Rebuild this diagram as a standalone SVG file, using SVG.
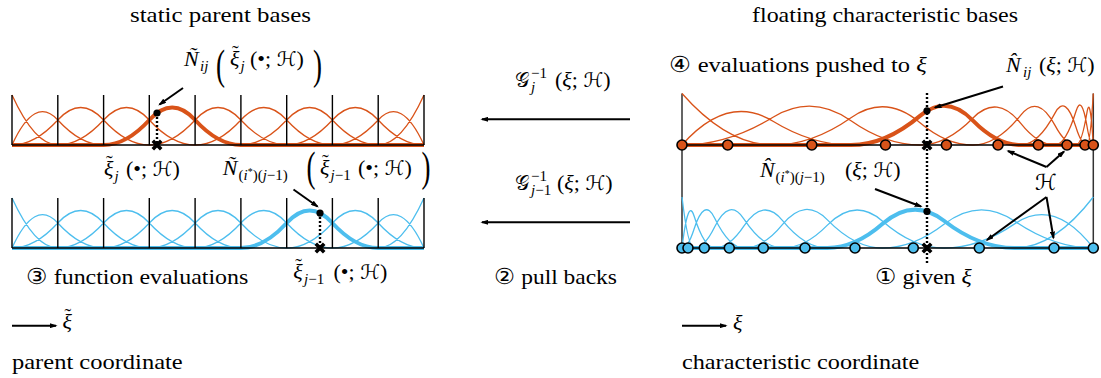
<svg xmlns="http://www.w3.org/2000/svg" width="1101" height="378" viewBox="0 0 1101 378">
<defs>
<marker id="ah" viewBox="0 0 10 6.5" refX="8" refY="3.25" markerWidth="4" markerHeight="2.6" orient="auto" markerUnits="strokeWidth"><path d="M0,0 L10,3.25 L0,6.5 z" fill="#000"/></marker>
<path id="xm" fill="none" stroke="#000" stroke-width="3.6" d="M-4.2,-4.2L4.2,4.2M-4.2,4.2L4.2,-4.2"/>
<path id="famL" fill="none" stroke-width="1.3" d="M12,95 Q34.9,145 57.8,145 M12,145 Q34.9,95 57.8,120 Q80.7,145 103.6,145 M12,145 Q34.9,145 57.8,120 Q80.7,95 103.6,120 Q126.5,145 149.3,145 M57.8,145 Q80.7,145 103.6,120 Q126.5,95 149.3,120 Q172.2,145 195.1,145 M103.6,145 Q126.5,145 149.3,120 Q172.2,95 195.1,120 Q218,145 240.9,145 M149.3,145 Q172.2,145 195.1,120 Q218,95 240.9,120 Q263.8,145 286.7,145 M195.1,145 Q218,145 240.9,120 Q263.8,95 286.7,120 Q309.6,145 332.4,145 M240.9,145 Q263.8,145 286.7,120 Q309.6,95 332.4,120 Q355.3,145 378.2,145 M286.7,145 Q309.6,145 332.4,120 Q355.3,95 378.2,120 Q401.1,145 424,145 M332.4,145 Q355.3,145 378.2,120 Q401.1,95 424,145 M378.2,145 Q401.1,145 424,95"/>
<path id="gridL" fill="none" stroke="#000" stroke-width="1.4" d="M12,95V145M57.8,95V145M103.6,95V145M149.3,95V145M195.1,95V145M240.9,95V145M286.7,95V145M332.4,95V145M378.2,95V145M424,95V145M12,145H424"/>
</defs>

<g id="title-static"><text font-family="Liberation Serif" font-size="22" x="130" y="21.5" textLength="181" lengthAdjust="spacingAndGlyphs">static parent bases</text></g>
<g id="title-floating"><text font-family="Liberation Serif" font-size="22" x="752" y="21.5" textLength="266" lengthAdjust="spacingAndGlyphs">floating characteristic bases</text></g>

<g id="parent-top">
<use href="#famL" stroke="#D95319"/>
<path fill="none" stroke="#D95319" stroke-width="4" d="M12,145 L103.6,145 Q126.5,145 149.3,120 Q172.2,95 195.1,120 Q218,145 240.9,145 L424,145"/>
<use href="#gridL"/>
<path fill="none" stroke="#000" stroke-width="2.4" stroke-dasharray="2 2" d="M157,113V145"/>
<use href="#xm" x="157" y="145"/>
<circle fill="#000" cx="157" cy="113" r="3.6"/>
</g>

<g id="parent-bottom">
<use href="#famL" stroke="#4DBEEE" y="103"/>
<path fill="none" stroke="#4DBEEE" stroke-width="4" d="M12,248 L240.9,248 Q263.8,248 286.7,223 Q309.6,198 332.4,223 Q355.3,248 378.2,248 L424,248"/>
<use href="#gridL" y="103"/>
<path fill="none" stroke="#000" stroke-width="2.4" stroke-dasharray="2 2" d="M320,213V248"/>
<use href="#xm" x="320" y="248"/>
<circle fill="#000" cx="320" cy="213.1" r="3.6"/>
</g>

<g id="char-frame">
<path fill="none" stroke="#333" stroke-width="1.5" d="M682,93.5V248M1093.3,93.5V248"/>
</g>

<g id="char-top">
<path fill="none" stroke="#D95319" stroke-width="1.3" d="M682,93.5 Q727.5,145 773,145 M682,145 Q727.5,93.5 773,121.23 Q812,145 851,145 M682,145 Q727.5,145 773,117.27 Q812,93.5 851,120.83 Q885.5,145 920,145 M773,145 Q812,145 851,117.67 Q885.5,93.5 920,122.63 Q946.5,145 973,145 M920,145 Q946.5,145 973,117.97 Q997,93.5 1021,123.65 Q1038,145 1055,145 M973,145 Q997,145 1021,114.85 Q1038,93.5 1055,125.34 Q1065.5,145 1076,145 M1021,145 Q1038,145 1055,113.16 Q1065.5,93.5 1076,127.3 Q1081.5,145 1087,145 M1055,145 Q1065.5,145 1076,111.2 Q1081.5,93.5 1087,126.24 Q1090.15,145 1093.3,145 M1076,145 Q1081.5,145 1087,112.26 Q1090.15,93.5 1093.3,145 M1087,145 Q1090.15,145 1093.3,93.5"/>
<path fill="none" stroke="#D95319" stroke-width="4" d="M682,145 L851,145 Q885.5,145 920,115.87 Q946.5,93.5 973,120.53 Q997,145 1021,145 L1093.3,145"/>
<path fill="none" stroke="#000" stroke-width="1.4" d="M682,145H1093.3"/>
</g>

<g id="char-bottom">
<path fill="none" stroke="#4DBEEE" stroke-width="1.3" d="M682,197 Q688,248 694,248 M682,248 Q688,197 694,215.77 Q704.3,248 714.6,248 M682,248 Q688,248 694,229.23 Q704.3,197 714.6,218.01 Q729.3,248 744,248 M694,248 Q704.3,248 714.6,226.99 Q729.3,197 744,219.05 Q763.3,248 782.6,248 M714.6,248 Q729.3,248 744,225.95 Q763.3,197 782.6,220.6 Q805,248 827.4,248 M744,248 Q763.3,248 782.6,224.4 Q805,197 827.4,219.85 Q855,248 882.6,248 M782.6,248 Q805,248 827.4,225.15 Q855,197 882.6,221.14 Q913.3,248 944,248 M882.6,248 Q913.3,248 944,224.27 Q979.3,197 1014.6,221.12 Q1053.95,248 1093.3,248 M944,248 Q979.3,248 1014.6,223.88 Q1053.95,197 1093.3,248 M1014.6,248 Q1053.95,248 1093.3,197"/>
<path fill="none" stroke="#4DBEEE" stroke-width="4" d="M682,248 L827.4,248 Q855,248 882.6,223.86 Q913.3,197 944,220.73 Q979.3,248 1014.6,248 L1093.3,248"/>
<path fill="none" stroke="#000" stroke-width="1.4" d="M682,248H1093.3"/>
</g>

<g id="given-xi">
<path fill="none" stroke="#000" stroke-width="2.4" stroke-dasharray="2 2" d="M927,93V263"/>
</g>

<g id="knots-top" fill="#D95319" stroke="#000" stroke-width="1.6">
<circle cx="682" cy="145" r="5"/>
<circle cx="727.7" cy="145" r="5"/>
<circle cx="811.8" cy="145" r="5"/>
<circle cx="885.5" cy="145" r="5"/>
<circle cx="946.4" cy="145" r="5"/>
<circle cx="998" cy="145" r="5"/>
<circle cx="1038.3" cy="145" r="5"/>
<circle cx="1067" cy="145" r="5"/>
<circle cx="1085" cy="145" r="5"/>
<circle cx="1093.3" cy="145" r="5"/>
</g>

<g id="knots-bottom" fill="#4DBEEE" stroke="#000" stroke-width="1.6">
<circle cx="682" cy="248" r="5"/>
<circle cx="688" cy="248" r="5"/>
<circle cx="704.3" cy="248" r="5"/>
<circle cx="729.3" cy="248" r="5"/>
<circle cx="763.3" cy="248" r="5"/>
<circle cx="805" cy="248" r="5"/>
<circle cx="855" cy="248" r="5"/>
<circle cx="913.3" cy="248" r="5"/>
<circle cx="979.3" cy="248" r="5"/>
<circle cx="1054" cy="248" r="5"/>
<circle cx="1093.3" cy="248" r="5"/>
</g>

<g id="eval-points">
<use href="#xm" x="927" y="145"/>
<use href="#xm" x="927" y="248"/>
<circle fill="#000" cx="927" cy="110.8" r="3.6"/>
<circle fill="#000" cx="927" cy="211.4" r="3.6"/>
</g>

<g id="connectors" fill="none" stroke="#000" stroke-width="2" marker-end="url(#ah)">
<path d="M183,88 L159.5,104.5"/>
<path d="M293.5,189.5 L317.5,206.5"/>
<path d="M1003,86.5 L935,107.5"/>
<path d="M875,189 L921,206.5"/>
<path d="M1046.5,167 L1008,151"/>
<path d="M1046.5,167 L1064,151.5"/>
<path d="M1046.5,197 L987,240"/>
<path d="M1046.5,197 L1053.5,238"/>
<path d="M630,119.3 L482,119.3"/>
<path d="M630,222.3 L482,222.3"/>
<path d="M12,325.7 L56,325.7"/>
<path d="M682,325.7 L726,325.7"/>
</g>

<g id="label-N-ij-tilde">
<text font-family="Liberation Serif" font-size="22" y="66"><tspan x="184" font-style="italic">Ñ</tspan><tspan x="200" dy="5" font-size="15" font-style="italic">ij</tspan><tspan x="230" dy="-5" font-style="italic">ξ</tspan><tspan x="232" dy="-6" font-size="20">˜</tspan><tspan x="240.5" dy="11" font-size="15" font-style="italic">j</tspan><tspan x="250" dy="-5">(•; <tspan font-family="DejaVu Sans" font-size="20">ℋ</tspan>)</tspan></text>
<text font-family="Liberation Serif" font-size="42" x="216" y="79" textLength="9" lengthAdjust="spacingAndGlyphs">(</text>
<text font-family="Liberation Serif" font-size="42" x="313" y="79" textLength="9" lengthAdjust="spacingAndGlyphs">)</text>
</g>

<g id="label-xi-j-tilde">
<text font-family="Liberation Serif" font-size="22" y="176"><tspan x="104" font-style="italic">ξ</tspan><tspan x="106" dy="-6" font-size="20">˜</tspan><tspan x="114.5" dy="11" font-size="15" font-style="italic">j</tspan><tspan x="126" dy="-5">(•; <tspan font-family="DejaVu Sans" font-size="20">ℋ</tspan>)</tspan></text>
</g>

<g id="label-N-istar-tilde">
<text font-family="Liberation Serif" font-size="22" y="175"><tspan x="222.7" font-style="italic">Ñ</tspan><tspan x="238.5" dy="5" font-size="15">(<tspan font-style="italic">i</tspan><tspan dy="-5" font-size="10">*</tspan><tspan dy="5">)(</tspan><tspan font-style="italic">j</tspan>−1)</tspan><tspan x="320" dy="-5" font-style="italic">ξ</tspan><tspan x="322" dy="-6" font-size="20">˜</tspan><tspan x="330.5" dy="11" font-size="15"><tspan font-style="italic">j</tspan>−1</tspan><tspan x="358" dy="-5">(•; <tspan font-family="DejaVu Sans" font-size="20">ℋ</tspan>)</tspan></text>
<text font-family="Liberation Serif" font-size="42" x="306.5" y="180.7" textLength="9" lengthAdjust="spacingAndGlyphs">(</text>
<text font-family="Liberation Serif" font-size="42" x="421.5" y="180.7" textLength="9" lengthAdjust="spacingAndGlyphs">)</text>
</g>

<g id="label-xi-jm1-tilde">
<text font-family="Liberation Serif" font-size="22" y="278.5"><tspan x="293.3" font-style="italic">ξ</tspan><tspan x="295.3" dy="-6" font-size="20">˜</tspan><tspan x="304" dy="11" font-size="15"><tspan font-style="italic">j</tspan>−1</tspan><tspan x="333.5" dy="-5">(•; <tspan font-family="DejaVu Sans" font-size="20">ℋ</tspan>)</tspan></text>
</g>

<g id="step3"><text font-family="Liberation Serif" font-size="22" x="26" y="284" textLength="222.3" lengthAdjust="spacingAndGlyphs">③ function evaluations</text></g>
<g id="parent-axis"><text font-family="Liberation Serif" font-size="22" y="329"><tspan x="62.5" font-style="italic">ξ</tspan><tspan x="64.5" dy="-6" font-size="20">˜</tspan></text><text font-family="Liberation Serif" font-size="22" x="12" y="369" textLength="170.7" lengthAdjust="spacingAndGlyphs">parent coordinate</text></g>

<g id="label-G-j">
<text font-family="Liberation Serif" font-size="22" y="87"><tspan x="515" font-family="DejaVu Sans" font-size="20">𝒢</tspan><tspan x="531" dy="-9" font-size="15">−1</tspan><tspan x="531" dy="14" font-size="15" font-style="italic">j</tspan><tspan x="555" dy="-5">(<tspan font-style="italic">ξ</tspan>; <tspan font-family="DejaVu Sans" font-size="20">ℋ</tspan>)</tspan></text>
</g>
<g id="label-G-jm1">
<text font-family="Liberation Serif" font-size="22" y="190"><tspan x="515" font-family="DejaVu Sans" font-size="20">𝒢</tspan><tspan x="531" dy="-9" font-size="15">−1</tspan><tspan x="531" dy="14" font-size="15"><tspan font-style="italic">j</tspan>−1</tspan><tspan x="557" dy="-5">(<tspan font-style="italic">ξ</tspan>; <tspan font-family="DejaVu Sans" font-size="20">ℋ</tspan>)</tspan></text>
</g>
<g id="step2"><text font-family="Liberation Serif" font-size="22" x="494" y="284" textLength="123" lengthAdjust="spacingAndGlyphs">② pull backs</text></g>

<g id="step4"><text font-family="Liberation Serif" font-size="22" x="669.3" y="72" textLength="257.4" lengthAdjust="spacingAndGlyphs">④ evaluations pushed to <tspan font-style="italic">ξ</tspan></text></g>
<g id="label-N-ij-hat">
<text font-family="Liberation Serif" font-size="22" y="72"><tspan x="1006" font-style="italic">N&#x302;</tspan><tspan x="1023" dy="5" font-size="15" font-style="italic">ij</tspan><tspan x="1039" dy="-5">(<tspan font-style="italic">ξ</tspan>; <tspan font-family="DejaVu Sans" font-size="20">ℋ</tspan>)</tspan></text>
</g>
<g id="label-N-istar-hat">
<text font-family="Liberation Serif" font-size="22" y="177"><tspan x="760" font-style="italic">N&#x302;</tspan><tspan x="775.5" dy="5" font-size="15">(<tspan font-style="italic">i</tspan><tspan dy="-5" font-size="10">*</tspan><tspan dy="5">)(</tspan><tspan font-style="italic">j</tspan>−1)</tspan><tspan x="845" dy="-5">(<tspan font-style="italic">ξ</tspan>; <tspan font-family="DejaVu Sans" font-size="20">ℋ</tspan>)</tspan></text>
</g>
<g id="label-H"><text font-family="DejaVu Sans" font-size="22" x="1035" y="190">ℋ</text></g>
<g id="step1"><text font-family="Liberation Serif" font-size="22" x="875" y="284" textLength="96.7" lengthAdjust="spacingAndGlyphs">① given <tspan font-style="italic">ξ</tspan></text></g>
<g id="char-axis"><text font-family="Liberation Serif" font-size="22" font-style="italic" x="733" y="330">ξ</text><text font-family="Liberation Serif" font-size="22" x="682" y="369" textLength="237.3" lengthAdjust="spacingAndGlyphs">characteristic coordinate</text></g>
</svg>
